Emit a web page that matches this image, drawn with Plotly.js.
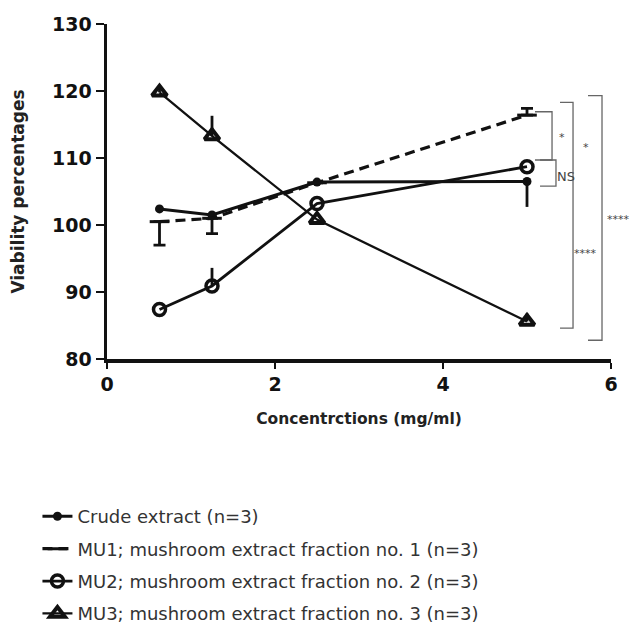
<!DOCTYPE html>
<html>
<head>
<meta charset="utf-8">
<script src="https://cdn.plot.ly/plotly-3.0.1.min.js"></script>
<style>html,body{margin:0;padding:0;background:#fff;}#chart{width:633px;height:631px;}</style>
</head>
<body>
<div id="chart"></div>
<script>
// ---- data ----
const concentrations = [0.625, 1.25, 2.5, 5];

const crudeValues   = [102.4, 101.5, 106.4, 106.5];
const crudeErrUp    = [0, 0, 0, 0];
const crudeErrDown  = [0, 0, 0, 3.8];

const mu1Values     = [100.5, 101.0, 106.3, 116.4];
const mu1ErrUp      = [0, 0, 0, 1.0];
const mu1ErrDown    = [3.5, 2.3, 0, 0];

const mu2Values     = [87.4, 90.9, 103.2, 108.7];
const mu2ErrUp      = [0, 2.7, 0, 0];
const mu2ErrDown    = [0, 0, 0, 0];

const mu3Values     = [119.8, 113.3, 100.8, 85.6];
const mu3ErrUp      = [0.8, 3.0, 0, 1.2];
const mu3ErrDown    = [0, 0, 0, 0];

const seriesNames = [
  "Crude extract (n=3)",
  "MU1; mushroom extract fraction no. 1 (n=3)",
  "MU2; mushroom extract fraction no. 2 (n=3)",
  "MU3; mushroom extract fraction no. 3 (n=3)"
];

const xTickValues = [0, 2, 4, 6];
const yTickValues = [80, 90, 100, 110, 120, 130];

// significance brackets: x of vertical, x of hook ends, y top, y bottom
const bracketX      = [5.298, 5.345, 5.548, 5.893];
const bracketHookX  = [5.095, 5.155, 5.393, 5.726];
const bracketTop    = [116.9, 109.7, 118.3, 119.3];
const bracketBottom = [109.7, 105.8, 84.6, 82.8];
const sigLabels     = ["*", "NS", "*", "****", "****"];
const sigLabelX     = [5.42, 5.47, 5.70, 5.70, 6.09];
const sigLabelY     = [113.1, 107.2, 111.5, 95.8, 100.8];

// ---- traces ----
const black = "#111";
function errs(up, down, w) {
  return {type: "data", symmetric: false, array: up, arrayminus: down,
          color: black, thickness: 2.8, width: w};
}
const traces = [
  {x: concentrations, y: crudeValues, name: seriesNames[0], mode: "lines+markers",
   line: {color: black, width: 3}, marker: {symbol: "circle", size: 9, color: black},
   error_y: errs(crudeErrUp, crudeErrDown, 0), legendgroup: "a"},
  {x: concentrations, y: mu1Values, name: seriesNames[1], mode: "lines+markers",
   line: {color: black, width: 3.2, dash: "10px,6px"},
   marker: {symbol: "line-ew", size: 14, color: black, line: {color: black, width: 3}},
   error_y: errs(mu1ErrUp, mu1ErrDown, 6), legendgroup: "b"},
  {x: concentrations, y: mu2Values, name: seriesNames[2], mode: "lines+markers",
   line: {color: black, width: 2.8},
   marker: {symbol: "circle-open", size: 12, color: black, line: {color: black, width: 3.5}},
   error_y: errs(mu2ErrUp, mu2ErrDown, 0), legendgroup: "c"},
  {x: concentrations, y: mu3Values, name: seriesNames[3], mode: "lines+markers",
   line: {color: black, width: 2.3},
   marker: {symbol: "triangle-up-open", size: 13, color: black, line: {color: black, width: 4}},
   error_y: errs(mu3ErrUp, mu3ErrDown, 0), legendgroup: "d"}
];

// ---- brackets ----
const xMax = 6;
const shapes = [];
const gray = "#666";
for (let i = 0; i < bracketX.length; i++) {
  shapes.push({type: "path", xref: "x", yref: "y", layer: "above",
    path: "M" + bracketHookX[i] + "," + bracketTop[i] + " L" + bracketX[i] + "," + bracketTop[i] +
          " L" + bracketX[i] + "," + bracketBottom[i] + " L" + bracketHookX[i] + "," + bracketBottom[i],
    line: {color: gray, width: 1.3}});
}
// labels beyond the x range are placed in paper units so they are not hidden
const annotations = sigLabels.map((t, i) => {
  const outside = sigLabelX[i] > xMax;
  return {
    x: outside ? sigLabelX[i] / xMax : sigLabelX[i], xref: outside ? "paper" : "x",
    xanchor: "center",
    y: sigLabelY[i], yref: "y", text: t, showarrow: false,
    font: {family: "DejaVu Sans", size: t === "NS" ? 13 : 11, color: "#444"}
  };
});

const tickFont = {family: "DejaVu Sans", size: 19, color: black, weight: "bold"};
const layout = {
  width: 633, height: 631,
  margin: {l: 107, r: 22, t: 24, b: 272, autoexpand: false},
  paper_bgcolor: "#fff", plot_bgcolor: "#fff",
  showlegend: true,
  legend: {x: -0.138, xanchor: "left", y: -0.415, yanchor: "top",
           font: {family: "DejaVu Sans", size: 18, color: "#333"},
           tracegroupgap: 6, traceorder: "grouped", bgcolor: "rgba(0,0,0,0)"},
  xaxis: {range: [0, xMax], tickvals: xTickValues, ticktext: xTickValues.map(String),
          showgrid: false, zeroline: false, showline: true, linecolor: black, linewidth: 3.5,
          ticks: "outside", ticklen: 6, tickwidth: 2.5, tickcolor: black, tickfont: tickFont,
          title: {text: "Concentrctions (mg/ml)", standoff: 20,
                  font: {family: "DejaVu Sans", size: 15.5, color: "#222", weight: "bold"}}},
  yaxis: {range: [80, 130], tickvals: yTickValues, ticktext: yTickValues.map(String),
          showgrid: false, zeroline: false, showline: true, linecolor: black, linewidth: 3.5,
          ticks: "outside", ticklen: 8, tickwidth: 2.5, tickcolor: black, tickfont: tickFont,
          title: {text: "Viability percentages", standoff: 24,
                  font: {family: "DejaVu Sans", size: 17, color: "#222", weight: "bold"}}},
  shapes: shapes,
  annotations: annotations
};

Plotly.newPlot("chart", traces, layout, {displayModeBar: false, staticPlot: true});
</script>
</body>
</html>
